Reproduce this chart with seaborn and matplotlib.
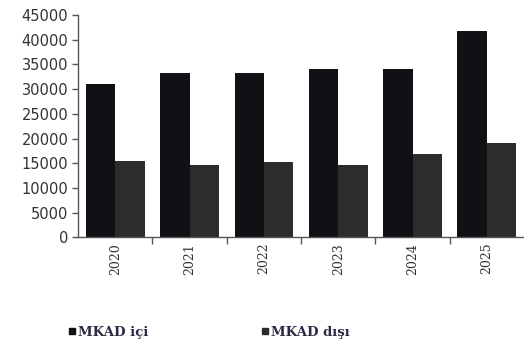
import matplotlib
matplotlib.use("Agg")
import matplotlib.pyplot as plt
import seaborn as sns
import pandas as pd
import numpy as np
from matplotlib.lines import Line2D
from matplotlib.ticker import FixedLocator, MultipleLocator

years = ["2020", "2021", "2022", "2023", "2024", "2025"]
inside = [31000, 33300, 33200, 34000, 34000, 41800]
outside = [15400, 14600, 15200, 14700, 16800, 19000]
series_names = ["MKAD içi", "MKAD dışı"]
colors = ["#101015", "#2c2c2c"]

df = pd.DataFrame({
    "year": years * 2,
    "value": inside + outside,
    "series": [series_names[0]] * len(years) + [series_names[1]] * len(years),
})

sns.set_style("white")
fig = plt.figure(figsize=(5.24, 3.5), dpi=100)
ax = fig.add_axes([0.149, 0.322, 0.851, 0.635])

sns.barplot(data=df, x="year", y="value", hue="series", palette=colors,
            width=0.79, gap=0, saturation=1, legend=False, ax=ax,
            edgecolor="none", linewidth=0)

ax.set_xlim(-0.5, len(years) - 0.5)
ax.set_ylim(0, 45000)
ax.yaxis.set_major_locator(MultipleLocator(5000))
ax.set_xlabel("")
ax.set_ylabel("")

for s in ["top", "right"]:
    ax.spines[s].set_visible(False)
for s in ["left", "bottom"]:
    ax.spines[s].set_color("#555555")
    ax.spines[s].set_linewidth(1.0)

ax.tick_params(axis="y", which="major", left=True, length=4, width=1,
               color="#555555", labelsize=10.5, labelcolor="#333333", pad=3)
ax.tick_params(axis="x", which="major", length=0, pad=4)
ax.xaxis.set_minor_locator(FixedLocator(np.arange(0.5, len(years) - 0.5, 1.0)))
ax.tick_params(axis="x", which="minor", bottom=True, length=5, width=1, color="#555555")

for lbl in ax.get_xticklabels():
    lbl.set_rotation(90)
    lbl.set_family("DejaVu Serif")
    lbl.set_fontsize(9)
    lbl.set_color("#333333")
for lbl in ax.get_yticklabels():
    lbl.set_family("DejaVu Sans")

handles = [Line2D([0], [0], marker="s", linestyle="none", markersize=5,
                  markerfacecolor=c, markeredgecolor=c) for c in colors]
fig.legend(handles, series_names, loc="center left", bbox_to_anchor=(0.105, 0.05),
           ncol=2, frameon=False, columnspacing=8.4, handletextpad=0.05,
           handlelength=0.8,
           prop={"family": "DejaVu Serif", "size": 9.5, "weight": "bold"},
           labelcolor="#2a2a44")

fig.savefig("out.png", dpi=100)
